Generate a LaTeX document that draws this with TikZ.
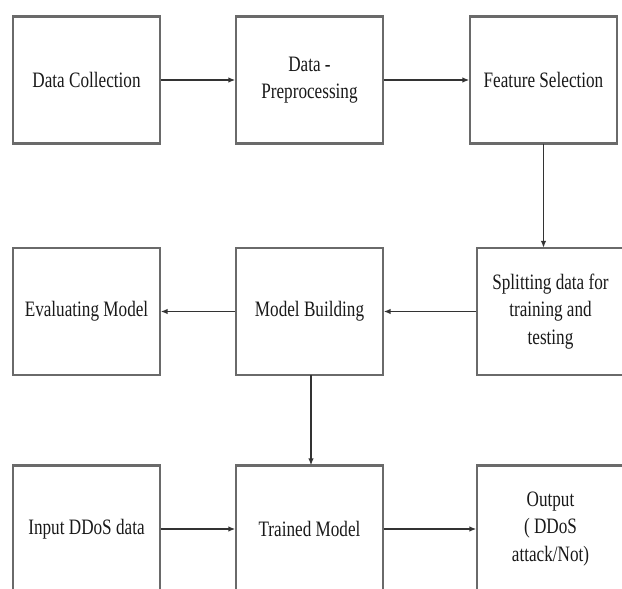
\documentclass[tikz,border=0pt]{standalone}
\usepackage{fontspec}
\setmainfont[FakeStretch=0.78]{Liberation Serif}
\usetikzlibrary{arrows.meta,calc}
\definecolor{boxgray}{HTML}{6A6A6A}
\begin{document}
\begin{tikzpicture}[x=1pt,y=-1pt,
  box/.style={draw=boxgray, line width=1.3pt, minimum width=147pt, minimum height=126pt,
    inner sep=0pt, align=center, font=\fontsize{22}{27.5}\selectfont, text=black!90},
  hedge/.style={draw=boxgray, line width=2.6pt},
  conn/.style={draw=black!80, line width=1.4pt, -{Latex[length=7pt,width=5.5pt]}}]
\useasboundingbox (0,0) rectangle (622,589);
\clip (0,0) rectangle (622,589);
% row 1
\node[box] (dc) at (86.5,80) {Data Collection};
\node[box] (dp) at (309.5,80) {Data -\\Preprocessing};
\node[box] (fs) at (543.5,80) {Feature Selection};
% row 2
\node[box] (em) at (86.5,311.5) {Evaluating Model};
\node[box] (mb) at (309.5,311.5) {Model Building};
\node[box] (sp) at (550.5,311.5) {Splitting data for\\training and\\testing};
% row 3
\node[box] (id) at (86.5,529) {Input DDoS data};
\node[box] (tm) at (309.5,529) {Trained Model};
\node[box] (op) at (550.5,529) {Output\\( DDoS\\attack/Not)};
% thicker horizontal edges
\foreach \n in {dc,dp,fs,em,mb,sp,id,tm,op}{
  \draw[hedge] (\n.north west) -- (\n.north east);
}
\foreach \n in {dc,dp,fs,em,mb,sp}{
  \draw[hedge] (\n.south west) -- (\n.south east);
}
% connectors
\draw[conn] (dc.east) -- (dp.west);
\draw[conn] (dp.east) -- (fs.west);
\draw[conn] (fs.south) -- (fs.south |- sp.north);
\draw[conn] (sp.west) -- (mb.east);
\draw[conn] (mb.west) -- (em.east);
\draw[conn] ([xshift=1.5pt]mb.south) -- ([xshift=1.5pt]tm.north);
\draw[conn] (id.east) -- (tm.west);
\draw[conn] (tm.east) -- (op.west);
\end{tikzpicture}
\end{document}
